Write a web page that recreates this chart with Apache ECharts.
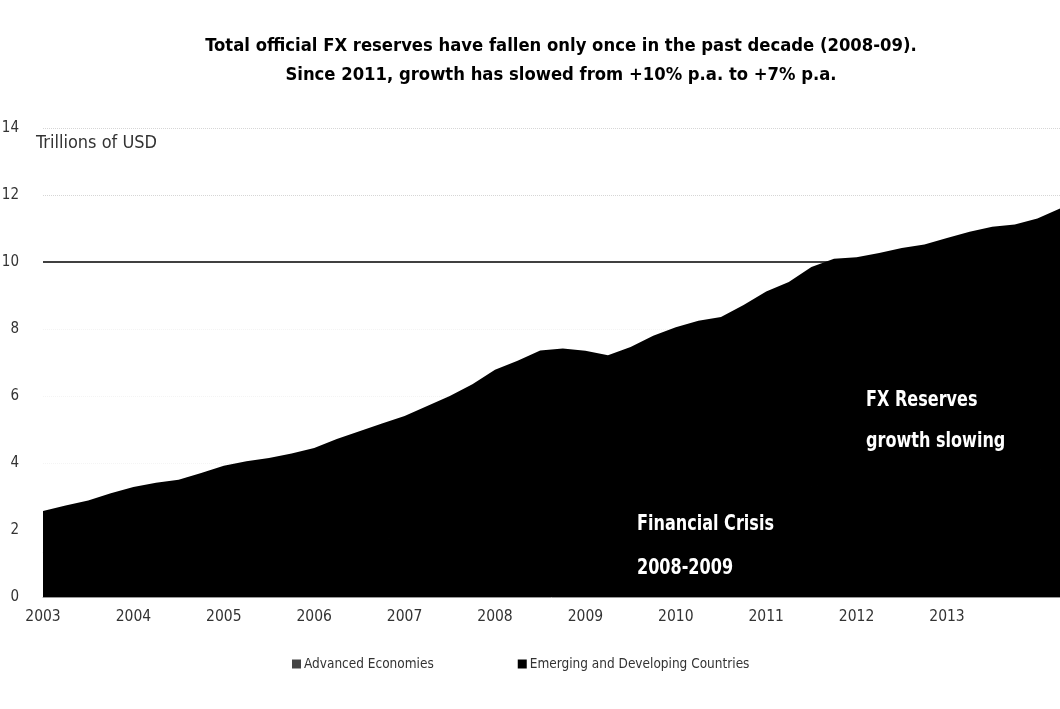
<!DOCTYPE html>
<html>
<head>
<meta charset="utf-8">
<script src="https://cdn.jsdelivr.net/npm/echarts@6/dist/echarts.min.js"></script>
<style>html,body{margin:0;padding:0;background:#fff;}#c{width:1060px;height:709px;}</style>
</head>
<body>
<div id="c"></div>
<script>
// Quarterly categories 2003Q1 .. 2014Q2
const categories = [
 '2003Q1','2003Q2','2003Q3','2003Q4','2004Q1','2004Q2','2004Q3','2004Q4',
 '2005Q1','2005Q2','2005Q3','2005Q4','2006Q1','2006Q2','2006Q3','2006Q4',
 '2007Q1','2007Q2','2007Q3','2007Q4','2008Q1','2008Q2','2008Q3','2008Q4',
 '2009Q1','2009Q2','2009Q3','2009Q4','2010Q1','2010Q2','2010Q3','2010Q4',
 '2011Q1','2011Q2','2011Q3','2011Q4','2012Q1','2012Q2','2012Q3','2012Q4',
 '2013Q1','2013Q2','2013Q3','2013Q4','2014Q1','2014Q2'];
// Year labels shown on the axis
const yearLabels = ['2003','2004','2005','2006','2007','2008','2009','2010','2011','2012','2013'];
// Trillions of USD
const advancedEconomies = [
 1.30,1.36,1.42,1.50,1.58,1.62,1.64,1.70,
 1.72,1.70,1.68,1.66,1.68,1.70,1.72,1.75,
 1.78,1.80,1.84,1.90,1.98,2.02,2.06,2.10,
 2.14,2.12,2.24,2.40,2.52,2.62,2.70,2.86,
 3.00,3.10,3.28,3.40,3.44,3.50,3.56,3.60,
 3.64,3.70,3.72,3.74,3.78,3.86];
const emergingDeveloping = [
 1.27,1.37,1.46,1.60,1.70,1.79,1.86,2.00,
 2.20,2.35,2.47,2.62,2.77,3.02,3.23,3.43,
 3.62,3.90,4.16,4.45,4.80,5.03,5.30,5.32,
 5.21,5.10,5.22,5.40,5.53,5.63,5.66,5.86,
 6.12,6.30,6.57,6.70,6.70,6.77,6.86,6.92,
 7.08,7.20,7.33,7.38,7.52,7.74];
const yTicks = [0,2,4,6,8,10,12,14];
const titleLines = ['Total official FX reserves have fallen only once in the past decade (2008-09).',
                    'Since 2011, growth has slowed from +10% p.a. to +7% p.a.'];
const unitLabel = 'Trillions of USD';
const noteCrisis = ['Financial Crisis','2008-2009'];
const noteSlowing = ['FX Reserves','growth slowing'];
const crisisBand = ['2008Q4','2009Q2'];

const NARROW = "'Liberation Sans Narrow','DejaVu Sans Condensed','Liberation Sans',sans-serif";
const chart = echarts.init(document.getElementById('c'), null, {renderer:'canvas'});
chart.setOption({
  backgroundColor:'#fff',
  animation:false,
  title:{
    text: titleLines.join('\n'),
    left: 556, top: 27, textAlign:'center',
    textStyle:{fontFamily:NARROW, fontWeight:'bold', fontSize:18.3, lineHeight:29, color:'#000'}
  },
  legend:{
    top: 652, left: 287,
    itemWidth:9, itemHeight:9, itemGap:84,
    icon:'rect',
    textStyle:{fontFamily:NARROW, fontSize:13.5, color:'#333', padding:[0,0,0,-2]},
    data:[{name:'Advanced Economies', itemStyle:{color:'#444'}},{name:'Emerging and Developing Countries'}]
  },
  grid:{left:43, right:0, top:128, bottom:112, containLabel:false, outerBoundsMode:'none'},
  xAxis:{
    type:'category', data:categories, boundaryGap:false,
    axisLine:{show:true, lineStyle:{color:'#999', width:1}},
    axisTick:{show:false},
    axisLabel:{interval:3, formatter:v=>{const y=v.slice(0,4);return yearLabels.indexOf(y)>=0?y:'';}, margin:12,
      fontFamily:NARROW, fontSize:15.5, color:'#333'},
    splitLine:{show:false}
  },
  yAxis:{
    type:'value', min:yTicks[0], max:yTicks[yTicks.length-1], interval:2,
    axisLine:{show:false}, axisTick:{show:false},
    axisLabel:{margin:24, fontFamily:NARROW, fontSize:15, color:'#333'},
    splitLine:{show:true, lineStyle:{type:'dotted', width:1,
      color:['rgba(0,0,0,0)','#f4f4f4','#f4f4f4','#f4f4f4','#f4f4f4','rgba(0,0,0,0)','#d6d6d6','#d6d6d6']}}
  },
  graphic:[
    {type:'text', left:36, top:134, style:{text:unitLabel, font:"18px "+NARROW, fill:'#333'}},
    {type:'text', left:866, top:380, scaleX:0.85, style:{text:noteSlowing.join('\n'), font:"bold 21px "+NARROW, fill:'#fff', lineHeight:41}, z:100},
    {type:'text', left:637, top:503, scaleX:0.85, style:{text:noteCrisis.join('\n'), font:"bold 21px "+NARROW, fill:'#fff', lineHeight:44}, z:100}
  ],
  series:[
    {name:'Advanced Economies', type:'line', stack:'total', data:advancedEconomies,
     symbol:'none', lineStyle:{width:2, color:'#000'}, itemStyle:{color:'#000'}, areaStyle:{color:'#000', opacity:1},
     markLine:{silent:true, symbol:'none', label:{show:false},
       lineStyle:{color:'#000', width:1.5, type:'solid'}, data:[{yAxis:10}]}},
    {name:'Emerging and Developing Countries', type:'line', stack:'total', data:emergingDeveloping,
     symbol:'none', lineStyle:{width:0}, itemStyle:{color:'#000'}, areaStyle:{color:'#000', opacity:1},
     markArea:{silent:true, itemStyle:{color:'rgba(255,255,255,0.14)'},
       data:[[{xAxis:crisisBand[0], yAxis:0},{xAxis:crisisBand[1], yAxis:2.6}]]}}
  ]
});
</script>
</body>
</html>
